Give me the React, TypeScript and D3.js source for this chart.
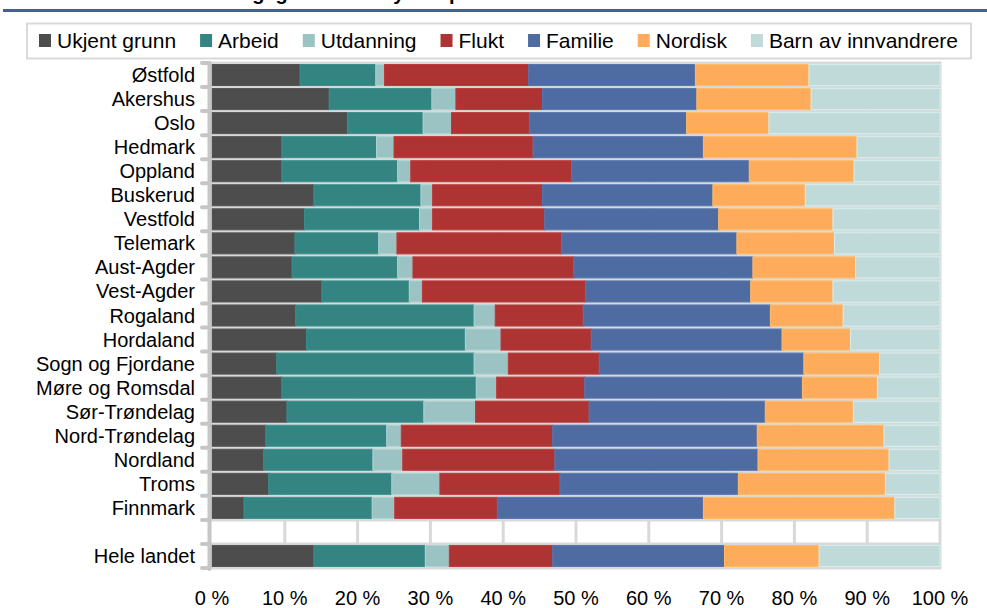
import { useEffect, useRef } from "react";
import * as d3 from "d3";

const categories = [
  "Østfold", "Akershus", "Oslo", "Hedmark", "Oppland", "Buskerud", "Vestfold",
  "Telemark", "Aust-Agder", "Vest-Agder", "Rogaland", "Hordaland",
  "Sogn og Fjordane", "Møre og Romsdal", "Sør-Trøndelag", "Nord-Trøndelag",
  "Nordland", "Troms", "Finnmark", "", "Hele landet",
];

const seriesNames = [
  "Ukjent grunn", "Arbeid", "Utdanning", "Flukt", "Familie", "Nordisk", "Barn av innvandrere",
];

const ukjent = [12.1, 16.1, 18.6, 9.6, 9.6, 14.0, 12.7, 11.4, 11.0, 15.1, 11.5, 13.0, 8.9, 9.6, 10.3, 7.4, 7.1, 7.8, 4.4, null, 14.0];
const arbeid = [10.4, 14.1, 10.4, 13.0, 15.9, 14.7, 15.8, 11.5, 14.5, 12.0, 24.5, 21.8, 27.1, 26.7, 18.8, 16.6, 15.0, 16.9, 17.6, null, 15.3];
const utdanning = [1.2, 3.3, 3.9, 2.4, 1.8, 1.6, 1.8, 2.5, 2.1, 1.8, 2.9, 4.9, 4.7, 2.8, 7.1, 2.0, 4.1, 6.6, 3.1, null, 3.3];
const flukt = [19.8, 11.9, 10.7, 19.1, 22.1, 15.1, 15.4, 22.6, 22.1, 22.4, 12.1, 12.4, 12.5, 12.1, 15.6, 20.8, 20.9, 16.5, 14.1, null, 14.2];
const familie = [22.9, 21.2, 21.6, 23.4, 24.4, 23.4, 23.9, 24.1, 24.6, 22.7, 25.7, 26.2, 28.1, 29.9, 24.2, 28.1, 27.9, 24.5, 28.3, null, 23.6];
const nordisk = [15.6, 15.7, 11.3, 21.1, 14.4, 12.7, 15.7, 13.4, 14.1, 11.3, 10.0, 9.4, 10.4, 10.3, 12.1, 17.4, 18.0, 20.2, 26.3, null, 13.0];
const barn = [18.0, 17.7, 23.5, 11.4, 11.8, 18.5, 14.7, 14.5, 11.6, 14.7, 13.3, 12.3, 8.3, 8.6, 11.9, 7.7, 7.0, 7.5, 6.2, null, 16.6];

const xTicks = [0, 0.1, 0.2, 0.3, 0.4, 0.5, 0.6, 0.7, 0.8, 0.9, 1];

const colors = ["#4d4d4d", "#348482", "#9bc3c3", "#ae3434", "#4f6ca2", "#ffab5c", "#c0dada"];

const FONT = "'Liberation Sans', Arial, sans-serif";

export default function App() {
  const svgRef = useRef<SVGSVGElement>(null);

  useEffect(() => {
    if (!svgRef.current) return;
    const svg = d3.select(svgRef.current);
    svg.selectAll("*").remove();

    const values = [ukjent, arbeid, utdanning, flukt, familie, nordisk, barn];
    const rows = categories.map((c, i) => {
      const r: any = { key: i, cat: c };
      seriesNames.forEach((s, j) => (r[s] = values[j][i] ?? 0));
      return r;
    });

    const stack = d3.stack<any>().keys(seriesNames).offset(d3.stackOffsetExpand);
    const layers = stack(rows);

    const x = d3.scaleLinear().domain([0, 1]).range([212, 940]);
    const y = d3
      .scaleBand<number>()
      .domain(rows.map((r) => r.key))
      .range([63, 568])
      .paddingInner(0.125)
      .paddingOuter(0.0625);

    // title (cut off at the top) and rule
    svg
      .append("text")
      .attr("x", 150)
      .attr("y", 0)
      .attr("font-family", FONT)
      .attr("font-weight", "bold")
      .attr("font-size", 20)
      .attr("fill", "#000")
      .text("Innvandringsgrunn etter fylke i prosent");
    svg
      .append("line")
      .attr("x1", 3)
      .attr("x2", 987)
      .attr("y1", 10.5)
      .attr("y2", 10.5)
      .attr("stroke", "#44618f")
      .attr("stroke-width", 3);

    // legend
    const legend = svg.append("g");
    legend
      .append("rect")
      .attr("x", 27)
      .attr("y", 23.5)
      .attr("width", 944)
      .attr("height", 35)
      .attr("fill", "#fff")
      .attr("stroke", "#d9d9d9")
      .attr("stroke-width", 2);
    let lx = 39;
    seriesNames.forEach((name, i) => {
      legend
        .append("rect")
        .attr("x", lx)
        .attr("y", 34)
        .attr("width", 12)
        .attr("height", 13)
        .attr("fill", colors[i]);
      const t = legend
        .append("text")
        .attr("x", lx + 18)
        .attr("y", 48)
        .attr("font-family", FONT)
        .attr("font-size", 21)
        .attr("fill", "#000")
        .text(name);
      const w = (t.node() as SVGTextElement).getComputedTextLength();
      lx = lx + 18 + w + 24;
    });

    const step = y.step();
    const bounds = d3.range(categories.length + 1).map((i) => 63 + i * step);

    // gridlines
    const grid = svg.append("g").attr("stroke", "#d9d9d9").attr("stroke-width", 3);
    grid
      .selectAll("line.v")
      .data(xTicks.slice(1))
      .enter()
      .append("line")
      .attr("x1", (d) => x(d))
      .attr("x2", (d) => x(d))
      .attr("y1", 62)
      .attr("y2", 569);
    grid
      .selectAll("line.h")
      .data(bounds)
      .enter()
      .append("line")
      .attr("x1", 210)
      .attr("x2", 941)
      .attr("y1", (d) => d)
      .attr("y2", (d) => d);

    // bars
    layers.forEach((layer, i) => {
      const c = colors[i];
      svg
        .append("g")
        .selectAll("rect")
        .data(layer.filter((d) => d[1] - d[0] > 0))
        .enter()
        .append("rect")
        .attr("x", (d) => x(d[0]))
        .attr("y", (d) => y(d.data.key) as number)
        .attr("width", (d) => x(d[1]) - x(d[0]))
        .attr("height", y.bandwidth())
        .attr("fill", c)
        .attr("stroke", d3.color(c)!.brighter(0.25).formatHex())
        .attr("stroke-width", 1);
    });

    // left axis
    const axis = svg
      .append("g")
      .attr("stroke", "#c6c6c6")
      .attr("stroke-width", 4)
      .attr("stroke-linecap", "round");
    axis
      .append("line")
      .attr("x1", 209.5)
      .attr("x2", 209.5)
      .attr("y1", 63)
      .attr("y2", 569);
    axis
      .selectAll("line.t")
      .data(bounds)
      .enter()
      .append("line")
      .attr("x1", 202)
      .attr("x2", 209)
      .attr("y1", (d) => d)
      .attr("y2", (d) => d);

    svg
      .append("g")
      .selectAll("text")
      .data(rows)
      .enter()
      .append("text")
      .attr("x", 195)
      .attr("y", (d) => (y(d.key) as number) + y.bandwidth() / 2 + 7)
      .attr("text-anchor", "end")
      .attr("font-family", FONT)
      .attr("font-size", 20)
      .attr("fill", "#000")
      .text((d) => d.cat);

    svg
      .append("g")
      .selectAll("text")
      .data(xTicks)
      .enter()
      .append("text")
      .attr("x", (d) => x(d))
      .attr("y", 605)
      .attr("text-anchor", "middle")
      .attr("font-family", FONT)
      .attr("font-size", 20)
      .attr("fill", "#000")
      .text((d) => `${Math.round(d * 100)} %`);
  }, []);

  return (
    <svg
      ref={svgRef}
      width={987}
      height={608}
      style={{ position: "absolute", left: 0, top: 0, display: "block", background: "#fff" }}
    />
  );
}
